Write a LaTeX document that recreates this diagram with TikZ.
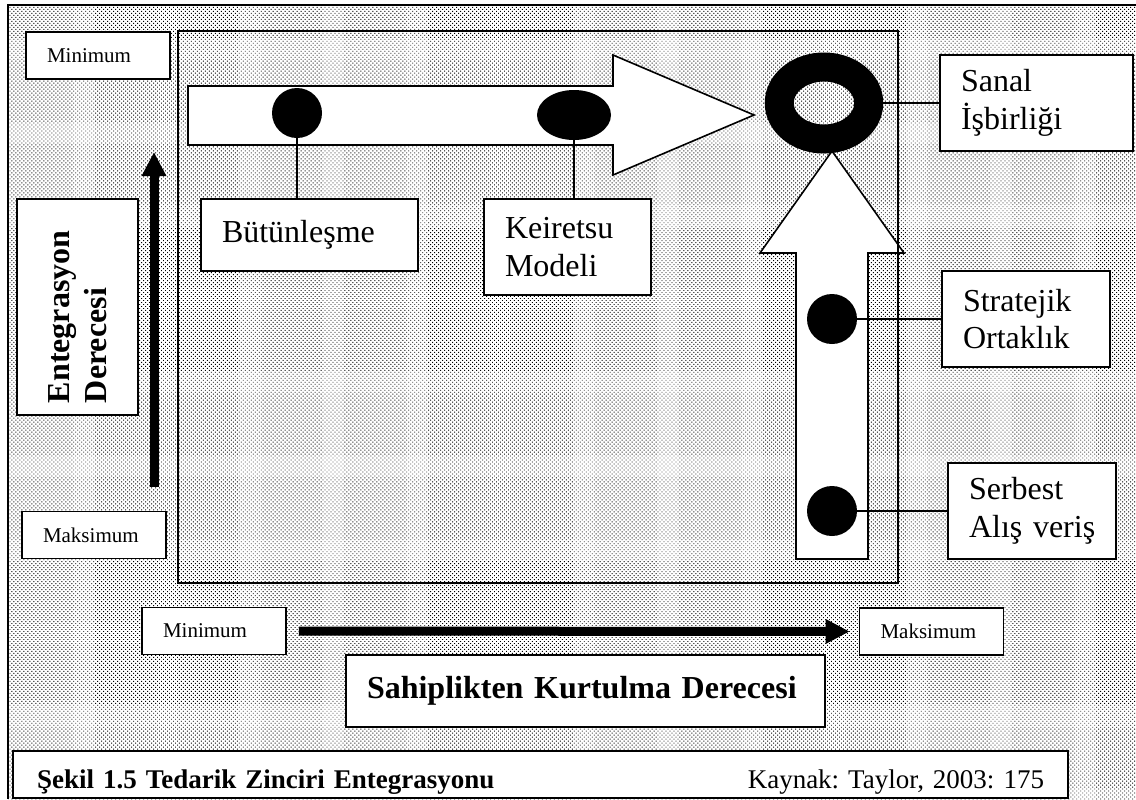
\documentclass[tikz,border=0pt]{standalone}
\usepackage{fontspec}
\setmainfont{Liberation Serif}
\frenchspacing
\usetikzlibrary{arrows.meta,patterns.meta,shapes.geometric}

\begin{document}
\begin{tikzpicture}[x=0.5pt,y=-0.5pt,
  box/.style={draw,fill=white,line width=0.8pt,align=left,inner xsep=10.5pt,inner ysep=0pt,
    font=\fontsize{16}{18.75}\selectfont},
  smallbox/.style={box,text width=51pt,minimum height=23.5pt,font=\fontsize{10.5}{12}\selectfont},
  boldbox/.style={box,font=\fontsize{16}{18.75}\selectfont\bfseries},
  dot/.style={circle,fill=black,inner sep=0pt,minimum size=25pt},
  link/.style={line width=0.75pt},
  axis/.style={line width=4.5pt,-{Triangle[length=12pt,width=11.5pt]}},
  blockarrow/.style={draw,fill=white,line width=0.8pt}]
\useasboundingbox (0,0) rectangle (1136,799);
            % Background
\fill[pattern={Dots[angle=45,distance=1.41pt,radius=0.33pt]}] (8,5) rectangle (1136,799);
\draw[line width=0.8pt] (1136,5) -| (8,799);
%Block arrows
\draw[blockarrow] (188,86) -- (613,86) -- (613,55) -- (754,115) -- (613,175)
  -- (613,145) -- (188,145) -- cycle;
\draw[blockarrow] (796,559) -- (796,253) -- (760,253) -- (832,151) -- (904,253)
  -- (868,253) -- (868,559) -- cycle;
\draw[line width=0.8pt] (178,31) rectangle (898,583);
%Dots
\node[dot] (d1) at (297,113) {};
\node[dot,ellipse,minimum width=37pt,minimum height=25pt] (d2) at (574,115) {};
\node[ellipse,draw,line width=14.5pt,inner sep=0pt,minimum width=44.75pt,minimum height=36pt] (ring) at (824,103) {};
\node[dot] (d3) at (832,319) {};
\node[dot] (d4) at (832,511) {};
%Labels
\node[box,text width=87.5pt,minimum height=36pt] (butun) at (309.5,235) {Bütünleşme};
\node[box,text width=62.5pt,minimum height=48pt] (keir) at (567.5,247) {Keiretsu\\Modeli};
\node[box,text width=75.5pt,minimum height=48pt] (sanal) at (1036.5,103) {Sanal\\İşbirliği};
\node[box,text width=63pt,minimum height=48pt] (strat) at (1026,319) {Stratejik\\Ortaklık};
\node[box,text width=63pt,minimum height=48pt] (serb) at (1032,511) {Serbest\\Alış~veriş};
\node[smallbox] (mintop) at (98,55.5) {Minimum};
\node[smallbox] (maxleft) at (94,535) {Maksimum};
\node[smallbox] (minbot) at (214,631) {Minimum};
\node[smallbox] (maxbot) at (931.5,631.5) {Maksimum};
\node[boldbox,text width=218.5pt,minimum height=36pt] (sahip) at (585.5,691) {Sahiplikten Kurtulma Derecesi};
\node[boldbox,rotate=90,text width=96pt,inner xsep=6pt,minimum height=60.5pt] (entg) at (77.5,307) {Entegrasyon\\Derecesi};
\node[box,text width=503.5pt,inner xsep=12pt,minimum height=23.5pt,text height=13.5pt,text depth=0pt,
  font=\fontsize{13.5}{16}\selectfont] (caption) at (540.5,774.5)
  {\textbf{Şekil 1.5 Tedarik Zinciri Entegrasyonu}\hfill Kaynak: Taylor, 2003: 175};
%Connections
\draw[link] (d1) -- (d1 |- butun.north);
\draw[link] (d2) -- (d2 |- keir.north);
\draw[link] (ring) -- (ring -| sanal.west);
\draw[link] (d3) -- (strat);
\draw[link] (d4) -- (serb);
%Axes
\coordinate (vlo) at (154,487);
\coordinate (vhi) at (154,152);
\draw[axis] (vlo) -- (vhi);
\draw[axis,shorten <=6pt,shorten >=4.5pt] (minbot.east) -- (maxbot.west);

          \end{tikzpicture}
\end{document}
